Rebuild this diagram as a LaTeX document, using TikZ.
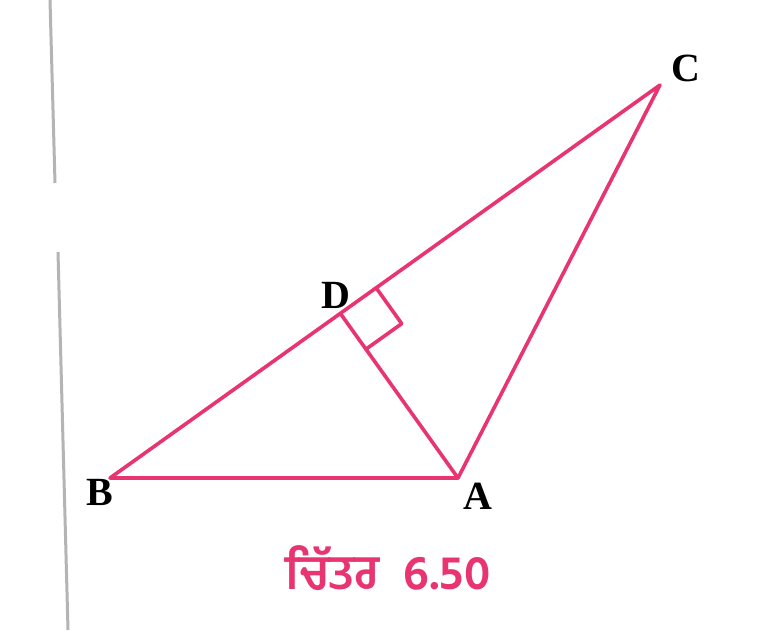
\documentclass[tikz,border=0pt]{standalone}
\usepackage{fontspec}
\usetikzlibrary{calc}
\setmainfont{Liberation Serif}
\newfontfamily\gurfont[Script=Gurmukhi]{Hind Jalandhar}
\definecolor{pinkline}{RGB}{232,52,112}
\definecolor{scangray}{RGB}{180,180,180}
\begin{document}
\begin{tikzpicture}[x=1pt,y=-1pt,
  edge/.style={draw=pinkline,line width=3.6pt,line join=round,line cap=round},
  vlabel/.style={font=\fontsize{40}{40}\selectfont\bfseries,text=black,inner sep=0pt},
  caption/.style={font=\fontsize{48}{48}\selectfont\gurfont\bfseries,text=pinkline,inner sep=0pt}]
\useasboundingbox[fill=white] (0,0) rectangle (779,630);
% scanned page edge
\coordinate (e1) at (50,0);
\coordinate (e2) at (55,183);
\coordinate (e3) at (58,252);
\coordinate (e4) at (68,630);
\draw[scangray,line width=3pt] (e1) -- (e2);
\draw[scangray,line width=3pt] (e3) -- (e4);
% vertices
\coordinate (B) at (110,478);
\coordinate (A) at (458,478);
\coordinate (C) at (660,85);
\coordinate (D) at ($(B)!(A)!(C)$);
% right-angle mark
\coordinate (R1) at ($(D)!44pt!(C)$);
\coordinate (R3) at ($(D)!44pt!(A)$);
\coordinate (R2) at ($(R1)+(R3)-(D)$);
\draw[edge] (R1) -- (R2) -- (R3);
% triangle and altitude
\draw[edge] (B) -- (A) -- (C) -- cycle;
\draw[edge] (D) -- (A);
% labels
\node[vlabel] (lC) at (686,68) {C};
\node[vlabel] (lD) at (336,295) {D};
\node[vlabel] (lB) at (100,492) {B};
\node[vlabel] (lA) at (478,496) {A};
\node[caption] (cap) at (388,568) {ਚਿੱਤਰ\ \ 6.50};
\end{tikzpicture}
\end{document}
